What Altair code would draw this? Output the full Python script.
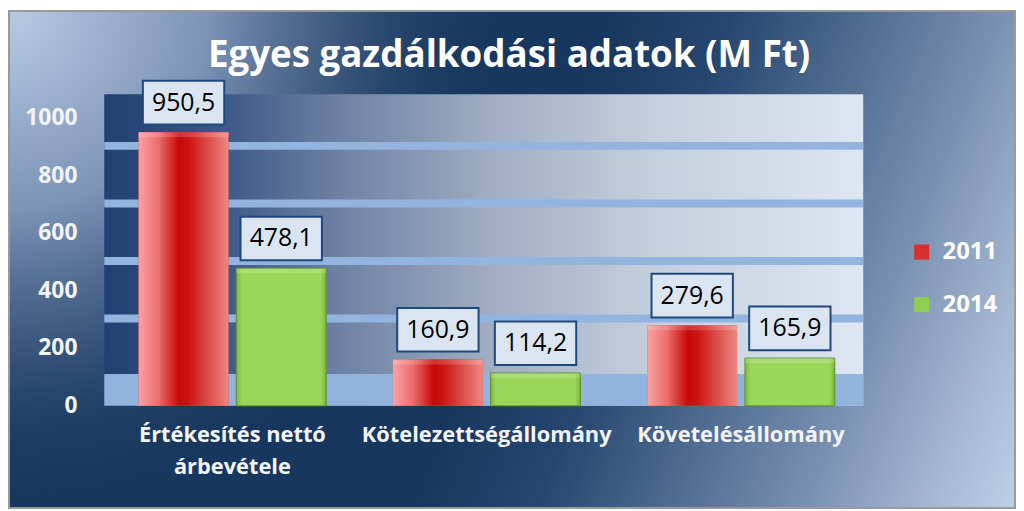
import altair as alt
import pandas as pd

# ---- data ----
categories = ["Értékesítés nettó árbevétele", "Kötelezettségállomány", "Követelésállomány"]
category_labels = ["Értékesítés nettó\nárbevétele", "Kötelezettségállomány", "Követelésállomány"]
years = ["2011", "2014"]
values_2011 = [950.5, 160.9, 279.6]
values_2014 = [478.1, 114.2, 165.9]
y_ticks = [0, 200, 400, 600, 800, 1000]
grid_values = [200, 400, 600, 800]
title_text = "Egyes gazdálkodási adatok (M Ft)"

rows = []
for c, v1, v2 in zip(categories, values_2011, values_2014):
    for y, v in zip(years, [v1, v2]):
        rows.append({"category": c, "year": y, "value": v,
                     "label": f"{v:.1f}".replace(".", ",")})
df = pd.DataFrame(rows)
cat_df = pd.DataFrame({"category": categories, "text": category_labels})
tick_df = pd.DataFrame({"tick": y_ticks})
grid_df = pd.DataFrame({"g": grid_values})
one = pd.DataFrame({"k": [0]})

W, H = 1016, 503
PX0, PX1 = 97, 862        # plot area (back wall) left/right
PY_TOP = 85
Y0, Y1000 = 399, 109

FONT = "Open Sans"

xs = alt.X("category:N", sort=categories, axis=None,
           scale=alt.Scale(domain=categories, range=[PX0 + 1, PX1 + 5], paddingInner=0, paddingOuter=0))
xo = alt.XOffset("year:N", sort=years,
                 scale=alt.Scale(domain=years, paddingInner=0.08, paddingOuter=0.342))
yscale = alt.Scale(domain=[0, 1000], range=[Y0, Y1000], nice=False)
ys = alt.Y("value:Q", axis=None, scale=yscale)


def lin(stops, x1=0, y1=0, x2=1, y2=0):
    return {"gradient": "linear", "x1": x1, "y1": y1, "x2": x2, "y2": y2,
            "stops": [{"offset": o, "color": c} for o, c in stops]}


bg_grad = lin([(0, "#17375e"), (0.5, "#17375e"), (0.6, "#264670"),
               (0.822, "#7890b0"), (0.917, "#a0b4cf"), (1, "#bcd0e8")],
              x2=1.153, y2=0.228)
glow_grad = {"gradient": "radial", "x1": 0, "y1": 0, "r1": 0, "x2": 0, "y2": 0, "r2": 0.46,
             "stops": [{"offset": 0, "color": "rgba(184,203,227,1)"},
                       {"offset": 0.4, "color": "rgba(123,147,181,1)"},
                       {"offset": 0.75, "color": "rgba(50,78,116,0.75)"},
                       {"offset": 1, "color": "rgba(23,55,94,0)"}]}
plot_grad = lin([(0, "#223f72"), (0.15, "#3b5787"), (0.3, "#6a7fa1"), (0.5, "#9eabc1"),
                 (0.72, "#c4cfdd"), (1, "#dde6f1")])
red_grad = lin([(0, "#f8a2a2"), (0.22, "#ec6e6e"), (0.45, "#c80808"), (0.55, "#cc1212"),
                (0.8, "#dc5450"), (1, "#eb8a82")])
green_grad = lin([(0, "#7db83e"), (0.06, "#9ad758"), (0.94, "#9ad758"), (1, "#7bb53b")])

background = alt.Chart(one).mark_rect(fill=bg_grad).encode(
    x=alt.value(0), x2=alt.value(W), y=alt.value(0), y2=alt.value(H))
glow = alt.Chart(one).mark_rect(fill=glow_grad).encode(
    x=alt.value(0), x2=alt.value(1100), y=alt.value(0), y2=alt.value(1100))
border = alt.Chart(one).mark_rect(fillOpacity=0, stroke="#9a9a9a", strokeWidth=2).encode(
    x=alt.value(1), x2=alt.value(W - 1), y=alt.value(1), y2=alt.value(H - 1))

plot_area = alt.Chart(one).mark_rect(fill=plot_grad).encode(
    x=alt.value(PX0), x2=alt.value(PX1), y=alt.value(PY_TOP), y2=alt.value(Y0))

floor = alt.Chart(one).mark_rect(fill="#92b3dd").encode(
    x=alt.value(PX0), x2=alt.value(PX1), y=alt.value(Y0 - 32), y2=alt.value(Y0))

grid = alt.Chart(grid_df).mark_rule(strokeWidth=8, color="#93b4de", yOffset=-30).encode(
    y=alt.Y("g:Q", axis=None, scale=yscale),
    x=alt.value(PX0), x2=alt.value(PX1))

bars_solid = alt.Chart(df).mark_bar().encode(
    x=xs, xOffset=xo, y=ys,
    color=alt.Color("year:N", sort=years,
                    scale=alt.Scale(domain=years, range=["#d9302c", "#8fce4e"]),
                    legend=alt.Legend(title=None, orient="none", legendX=909, legendY=232,
                                      symbolType="square", symbolSize=230, symbolStrokeWidth=0,
                                      labelColor="white", labelFont=FONT, labelFontWeight="bold",
                                      labelFontSize=24, labelOffset=9, rowPadding=29, padding=0,
                                      symbolOpacity=1)))

bars_red = alt.Chart(df).transform_filter(alt.datum.year == "2011").mark_bar(fill=red_grad).encode(
    x=xs, xOffset=xo, y=ys)
bars_green = alt.Chart(df).transform_filter(alt.datum.year == "2014").mark_bar(
    fill=green_grad, stroke="#5e8f2c", strokeWidth=1).encode(x=xs, xOffset=xo, y=ys)

caps = alt.Chart(df).mark_bar(fill="white", opacity=0.18, y2Offset=5).encode(
    x=xs, xOffset=xo, y=ys, y2="value:Q")

boxes = alt.Chart(df).mark_bar(width=82, fill="#dbe5f1", stroke="#1f497d", strokeWidth=2,
                               yOffset=-52, y2Offset=-8).encode(
    x=xs, xOffset=xo, y=ys, y2="value:Q")

box_text = alt.Chart(df).mark_text(dy=-30, fontSize=25, font=FONT, color="black",
                                   baseline="middle").encode(
    x=xs, xOffset=xo, y=ys, text="label:N")

y_labels = alt.Chart(tick_df).mark_text(align="right", baseline="middle", fontSize=23, font=FONT,
                                        fontWeight="bold", color="#f2f4f8").encode(
    y=alt.Y("tick:Q", axis=None, scale=yscale),
    x=alt.value(70), text="tick:Q")

x_labels = alt.Chart(cat_df).mark_text(baseline="top", fontSize=22, font=FONT, fontWeight="bold",
                                       color="#f2f4f8", lineBreak="\n", lineHeight=33).encode(
    x=xs, y=alt.value(418), text="text:N")

title = alt.Chart(one).mark_text(text=title_text, fontSize=37, font=FONT, fontWeight="bold",
                                 color="white", baseline="alphabetic", align="center").encode(
    x=alt.value(505), y=alt.value(57))

chart = alt.layer(background, glow, border, plot_area, floor, grid, bars_solid, bars_red,
                  bars_green, caps, boxes, box_text, y_labels, x_labels, title).properties(
    width=W, height=H, padding=0, autosize="none"
).configure_view(strokeWidth=0)

chart.save("out.html", embed_options={"renderer": "svg", "actions": False})
